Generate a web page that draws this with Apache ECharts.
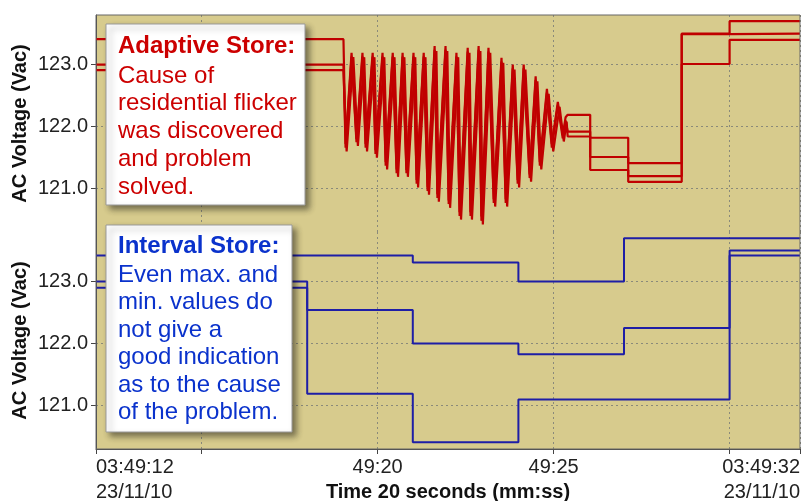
<!DOCTYPE html>
<html>
<head>
<meta charset="utf-8">
<script src="https://cdn.jsdelivr.net/npm/echarts@6/dist/echarts.min.js"></script>
<style>
  html, body { margin: 0; padding: 0; background: #fff; }
  #chart { width: 803px; height: 501px; }
</style>
</head>
<body>
<div id="chart"></div>
<script>
// time axis: seconds after 03:49:00
const xTicks = [12, 15, 20, 25, 30, 32]
const xLabelVals = [12, 20, 25, 32]
const xLabelText = ['03:49:12\n23/11/10', '49:20', '49:25', '03:49:32\n23/11/10']
const yTicks = [121, 122, 123]

// Adaptive Store (red) - steady records before the flicker
const preT = [12, 19.03]
const preMax = [123.41]
const preAvg = [123.00]
const preMin = [122.91]

// Adaptive Store - flicker records (alternating trough / peak)
const oscT = [19.09, 19.26, 19.40, 19.57, 19.66, 19.86, 19.94, 20.14, 20.23, 20.43, 20.54, 20.71, 20.82, 21.02,
  21.11, 21.31, 21.42, 21.62, 21.70, 21.93, 22.02, 22.24, 22.33, 22.56, 22.64, 22.87, 22.95, 23.15,
  23.30, 23.52, 23.64, 23.84, 23.98, 24.15, 24.32, 24.49, 24.61, 24.81, 24.95, 25.12, 25.26, 25.34]
const oscTMin = [19.12, 19.31, 19.44, 19.62, 19.70, 19.91, 19.98, 20.19, 20.27, 20.48, 20.58, 20.76, 20.86, 21.07,
  21.15, 21.36, 21.46, 21.67, 21.74, 21.98, 22.06, 22.29, 22.37, 22.61, 22.68, 22.92, 22.99, 23.20,
  23.34, 23.57, 23.68, 23.89, 24.02, 24.20, 24.36, 24.54, 24.65, 24.86, 24.99, 25.17, 25.29, 25.37]
const oscMax = [121.72, 123.19, 121.80, 123.19, 121.72, 123.19, 121.62, 123.19, 121.43, 123.19, 121.31, 123.19, 121.30, 123.19,
  121.14, 123.19, 121.02, 123.30, 120.91, 123.30, 120.81, 123.19, 120.62, 123.27, 120.62, 123.30, 120.55, 123.27,
  120.83, 123.11, 120.83, 123.00, 121.14, 123.00, 121.23, 122.81, 121.43, 122.61, 121.72, 122.40, 121.86, 122.15]
const oscAvg = [121.66, 123.13, 121.75, 123.13, 121.66, 123.13, 121.56, 123.13, 121.37, 123.13, 121.25, 123.13, 121.25, 123.13,
  121.08, 123.13, 120.96, 123.24, 120.85, 123.24, 120.75, 123.13, 120.56, 123.21, 120.56, 123.24, 120.48, 123.21,
  120.77, 123.05, 120.77, 122.94, 121.08, 122.94, 121.17, 122.75, 121.37, 122.55, 121.66, 122.34, 121.81, 122.10]
const oscMin = [121.60, 123.12, 121.69, 123.12, 121.60, 123.12, 121.50, 123.12, 121.31, 123.12, 121.19, 123.12, 121.19, 123.12,
  121.02, 123.12, 120.90, 123.22, 120.79, 123.22, 120.69, 123.12, 120.50, 123.19, 120.50, 123.22, 120.42, 123.19,
  120.71, 123.03, 120.71, 122.92, 121.02, 122.92, 121.11, 122.73, 121.31, 122.53, 121.60, 122.32, 121.76, 122.08]

// Adaptive Store - records after the flicker
const postT = [25.40, 26.04, 27.12, 28.64, 30.0, 32.0]
const postMax = [122.19, 121.82, 121.41, 123.50, 123.70]
const postAvg = [121.92, 121.51, 121.20, 123.49, 123.50]
const postMin = [121.84, 121.30, 121.11, 123.01, 123.40]

// Interval Store (blue) - 3 second records
const intT = [12, 18, 21, 24, 27, 30, 32]
const intMax = [123.42, 123.42, 123.31, 123.00, 123.70, 123.70]
const intAvg = [123.00, 122.54, 122.00, 121.83, 122.25, 123.50]
const intMin = [122.90, 121.19, 120.41, 121.10, 121.10, 123.42]

function steps(t, v) {
  const out = []
  for (let i = 0; i < v.length; i++) out.push([t[i], v[i]], [t[i + 1], v[i]])
  return out
}
function pts(t, v) { return v.map((y, i) => [t[i], y]) }

const FONT = '"Liberation Sans", Arial, sans-serif'
const RED = '#C00000'
const BLUE = '#1E1EA6'
const BG = '#D7CB8D'

const yName = 'AC Voltage (Vac)'
function yAxis(gi) {
  return {
    type: 'value', gridIndex: gi, min: 120.3, max: 123.8,
    name: yName, nameLocation: 'middle', nameGap: 66, nameRotate: 90, nameMoveOverlap: false,
    nameTextStyle: { fontFamily: FONT, fontSize: 20, fontWeight: 'bold', color: '#111' },
    axisLine: { show: true, lineStyle: { color: '#444', width: 1 } },
    axisTick: { show: true, inside: false, length: 5, customValues: yTicks, lineStyle: { color: '#444' } },
    axisLabel: { customValues: yTicks, fontFamily: FONT, fontSize: 20, color: '#222', margin: 8,
      formatter: v => v.toFixed(1) },
    splitLine: { show: true, lineStyle: { color: '#8a8a7a', type: [2, 3], width: 1 } }
  }
}
function xAxis(gi, bottom) {
  return {
    type: 'value', gridIndex: gi, min: 12, max: 32,
    name: bottom ? 'Time 20 seconds (mm:ss)' : '', nameLocation: 'middle', nameGap: 33, nameMoveOverlap: false,
    nameTextStyle: { fontFamily: FONT, fontSize: 20, fontWeight: 'bold', color: '#111' },
    axisLine: { show: bottom, onZero: false, lineStyle: { color: '#444', width: 1 } },
    axisTick: { show: bottom, inside: false, length: 5, customValues: xTicks, lineStyle: { color: '#444' } },
    axisLabel: { show: bottom, customValues: xLabelVals, fontFamily: FONT, fontSize: 20, color: '#222',
      lineHeight: 25, margin: 6, alignMinLabel: 'left', alignMaxLabel: 'right',
      formatter: v => xLabelText[xLabelVals.indexOf(v)] },
    splitLine: { show: true, lineStyle: { color: '#8a8a7a', type: [2, 3], width: 1 } }
  }
}
function line(gi, data, color, w) {
  return { type: 'line', xAxisIndex: gi, yAxisIndex: gi, data, showSymbol: false, silent: true,
    lineStyle: { color, width: w || 2 }, z: 5 }
}

const chart = echarts.init(document.getElementById('chart'), null, { renderer: 'canvas' })
chart.setOption({
  animation: false,
  backgroundColor: '#fff',
  grid: [
    { left: 96, right: 3, top: 15, height: 217, show: true, backgroundColor: BG, borderWidth: 0, outerBoundsMode: 'none' },
    { left: 96, right: 3, top: 232, height: 217, show: true, backgroundColor: BG, borderWidth: 0, outerBoundsMode: 'none' }
  ],
  xAxis: [xAxis(0, false), xAxis(1, true)],
  yAxis: [yAxis(0), yAxis(1)],
  series: [
    line(0, steps(preT, preMin).concat(pts(oscTMin, oscMin), steps(postT, postMin)), RED, 2.2),
    line(0, steps(preT, preAvg).concat(pts(oscT, oscAvg), steps(postT, postAvg)), RED, 2.2),
    line(0, steps(preT, preMax).concat(pts(oscT, oscMax), steps(postT, postMax)), RED, 2.2),
    line(1, steps(intT, intMin), BLUE),
    line(1, steps(intT, intAvg), BLUE),
    line(1, steps(intT, intMax), BLUE)
  ],
  graphic: [
    { type: 'rect', z: 50, silent: true, shape: { x: 96, y: 15, width: 704, height: 434 },
      style: { fill: 'none', stroke: '#666', lineWidth: 1 } },
    { type: 'rect', z: 100, shape: { x: 106, y: 24, width: 199, height: 181 },
      style: { fill: '#fff', stroke: '#999', lineWidth: 1, shadowBlur: 6, shadowOffsetX: 4, shadowOffsetY: 4, shadowColor: 'rgba(0,0,0,0.45)' } },
    { type: 'text', z: 101, x: 118, y: 34, style: { text: 'Adaptive Store:', font: 'bold 24px ' + FONT, fill: '#CC0000', textVerticalAlign: 'top' } },
    { type: 'text', z: 101, x: 118, y: 62, style: { text: 'Cause of\nresidential flicker\nwas discovered\nand problem\nsolved.',
      font: '24px ' + FONT, fill: '#CC0000', lineHeight: 27.8, textVerticalAlign: 'top' } },
    { type: 'rect', z: 100, shape: { x: 106, y: 225, width: 186, height: 207 },
      style: { fill: '#fff', stroke: '#999', lineWidth: 1, shadowBlur: 6, shadowOffsetX: 4, shadowOffsetY: 4, shadowColor: 'rgba(0,0,0,0.45)' } },
    { type: 'text', z: 101, x: 118, y: 234, style: { text: 'Interval Store:', font: 'bold 24px ' + FONT, fill: '#0A32CC', textVerticalAlign: 'top' } },
    { type: 'text', z: 101, x: 118, y: 261.5, style: { text: 'Even max. and\nmin. values do\nnot give a\ngood indication\nas to the cause\nof the problem.',
      font: '24px ' + FONT, fill: '#0A32CC', lineHeight: 27.5, textVerticalAlign: 'top' } }
  ]
})
</script>
</body>
</html>
